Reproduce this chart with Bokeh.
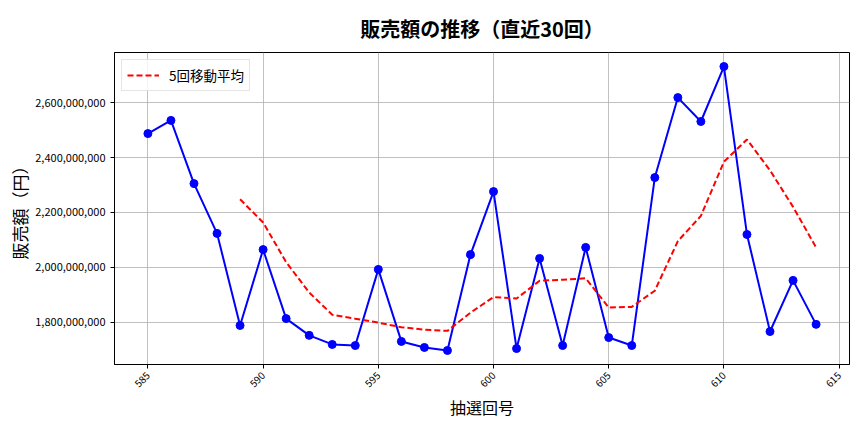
import math
import pandas as pd
from bokeh.plotting import figure
from bokeh.models import NumeralTickFormatter, FixedTicker, Range1d, Legend, LegendItem
from bokeh.embed import file_html
from bokeh.resources import INLINE

draws = list(range(585, 615))
sales = [2487e6, 2535e6, 2305e6, 2124e6, 1789e6, 2065e6, 1814e6, 1753e6, 1720e6, 1716e6,
         1993e6, 1731e6, 1709e6, 1698e6, 2047e6, 2276e6, 1705e6, 2033e6, 1716e6, 2073e6,
         1745e6, 1716e6, 2327e6, 2618e6, 2531e6, 2731e6, 2120e6, 1767e6, 1953e6, 1793e6]
x_ticks = [585, 590, 595, 600, 605, 610, 615]
y_ticks = [1.8e9, 2.0e9, 2.2e9, 2.4e9, 2.6e9]

ma = pd.Series(sales).rolling(5).mean()
ma_x = [d for d, m in zip(draws, ma) if not pd.isna(m)]
ma_y = [m for m in ma if not pd.isna(m)]

FONT = "Noto Sans CJK JP"

p = figure(width=864, height=432, output_backend="svg", toolbar_location=None,
           frame_width=735, frame_height=312,
           x_range=Range1d(583.55, 615.45), y_range=Range1d(1.647e9, 2.782e9),
           title="販売額の推移（直近30回）")
p.min_border_left = 114
p.min_border_right = 15
p.min_border_top = 52
p.min_border_bottom = 68

p.title.align = "center"
p.title.text_font = FONT
p.title.text_font_size = "20px"
p.title.text_font_style = "bold"
p.title.text_color = "black"
p.title.offset = 0
p.title.standoff = 20

p.outline_line_color = "black"
p.outline_line_width = 1
p.background_fill_color = "white"

for ax in (p.xaxis[0], p.yaxis[0]):
    ax.axis_line_color = "black"
    ax.major_tick_out = 4
    ax.major_tick_in = 0
    ax.minor_tick_line_color = None
    ax.major_label_text_font = FONT
    ax.major_label_text_color = "black"
    ax.axis_label_text_font = FONT
    ax.axis_label_text_font_style = "normal"
    ax.axis_label_text_color = "black"

p.xaxis.ticker = FixedTicker(ticks=x_ticks)
p.xaxis.major_label_orientation = math.pi / 4
p.xaxis.major_label_text_font_size = "10px"
p.xaxis.axis_label = "抽選回号"
p.xaxis.axis_label_text_font_size = "16px"
p.xaxis.axis_label_standoff = 1

p.yaxis.ticker = FixedTicker(ticks=y_ticks)
p.yaxis.formatter = NumeralTickFormatter(format="0,0")
p.yaxis.major_label_text_font_size = "11px"
p.yaxis.axis_label = "販売額（円）"
p.yaxis.axis_label_text_font_size = "17px"
p.yaxis.axis_label_standoff = 0

p.xgrid.grid_line_color = "#b0b0b0"
p.ygrid.grid_line_color = "#b0b0b0"
p.xgrid.grid_line_width = 0.8
p.ygrid.grid_line_width = 0.8

p.line(draws, sales, line_color="#0000ff", line_width=2)
p.scatter(draws, sales, size=8, fill_color="#0000ff", line_color="#0000ff")
r_ma = p.line(ma_x, ma_y, line_color="#ff0000", line_width=2, line_dash="6 3")

legend = Legend(items=[LegendItem(label="5回移動平均", renderers=[r_ma])],
                location="top_left")
legend.label_text_font = FONT
legend.label_text_font_size = "13.5px"
legend.label_text_color = "black"
legend.border_line_color = "#cccccc"
legend.background_fill_alpha = 0.8
legend.margin = 7
legend.padding = 5
legend.glyph_width = 32
legend.label_standoff = 10
legend.spacing = 0
p.add_layout(legend, "center")

open("out.html", "w").write(file_html(p, INLINE))
